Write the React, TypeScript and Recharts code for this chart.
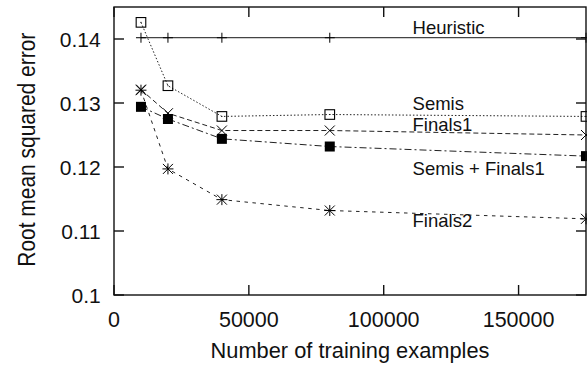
import React from 'react';
import { LineChart, Line, XAxis, YAxis, ReferenceDot } from 'recharts';

const examples = [10000, 20000, 40000, 80000, 175000];
const heuristic = [0.1402, 0.1402, 0.1402, 0.1402, 0.1402];
const semis = [0.1426, 0.1327, 0.1279, 0.1282, 0.1279];
const finals1 = [0.1321, 0.1284, 0.1257, 0.1257, 0.125];
const semisFinals1 = [0.1294, 0.1275, 0.1244, 0.1232, 0.1217];
const finals2 = [0.132, 0.1197, 0.1149, 0.1132, 0.1119];

const xTicks = [0, 50000, 100000, 150000];
const yTicks = [0.1, 0.11, 0.12, 0.13, 0.14];
const xTickLabels = ['0', '50000', '100000', '150000'];
const yTickLabels = ['0.1', '0.11', '0.12', '0.13', '0.14'];

const seriesNames = ['Heuristic', 'Semis', 'Finals1', 'Semis + Finals1', 'Finals2'];
const labelX = [110700, 110700, 110700, 110700, 110700];
const labelY = [0.14079, 0.12892, 0.12557, 0.1187, 0.11065];

const xTitle = 'Number of training examples';
const yTitle = 'Root mean squared error';

const X_DOMAIN = [0, 175000];
const Y_DOMAIN = [0.1, 0.145];

const data = examples.map((x, i) => ({
  x,
  heuristic: heuristic[i],
  semis: semis[i],
  finals1: finals1[i],
  semisFinals1: semisFinals1[i],
  finals2: finals2[i],
}));

const FONT = '"Liberation Sans", Arial, Helvetica, sans-serif';
const INK = '#111';

// chart geometry (margins + axis sizes) shared by the chart and its frame overlay
const W = 587;
const H = 369;
const MARGIN = { top: 7, right: 1, left: 0, bottom: 0 };
const Y_AXIS_W = 114;
const X_AXIS_H = 74;
const PLOT = {
  left: MARGIN.left + Y_AXIS_W,
  right: W - MARGIN.right,
  top: MARGIN.top,
  bottom: H - MARGIN.bottom - X_AXIS_H,
};
const TICK_LEN = 10;
const sx = (v: number) => PLOT.left + ((v - X_DOMAIN[0]) / (X_DOMAIN[1] - X_DOMAIN[0])) * (PLOT.right - PLOT.left);
const sy = (v: number) => PLOT.bottom - ((v - Y_DOMAIN[0]) / (Y_DOMAIN[1] - Y_DOMAIN[0])) * (PLOT.bottom - PLOT.top);

const XTick = (props: any) => {
  const { x, y, payload } = props;
  const i = xTicks.indexOf(payload.value);
  return (
    <text x={x} y={y} dy={32.3} textAnchor="middle" fontSize={21.5} fill={INK} fontFamily={FONT}>
      {i >= 0 ? xTickLabels[i] : String(payload.value)}
    </text>
  );
};

const YTick = (props: any) => {
  const { x, y, payload } = props;
  const i = yTicks.indexOf(payload.value);
  return (
    <text x={x} y={y} dx={-13.3} dy={7.5} textAnchor="end" fontSize={21} fill={INK} fontFamily={FONT}>
      {i >= 0 ? yTickLabels[i] : String(payload.value)}
    </text>
  );
};

const plusDot = (p: any) => (
  <path key={`h${p.index}`} d={`M${p.cx - 5},${p.cy}h10M${p.cx},${p.cy - 5}v10`} stroke="#000" strokeWidth={1} fill="none" />
);
const openSquareDot = (p: any) => (
  <g key={`s${p.index}`}>
    <rect x={p.cx - 4.8} y={p.cy - 4.8} width={9.6} height={9.6} stroke="#000" strokeWidth={1.1} fill="none" />
    <rect x={p.cx - 0.5} y={p.cy - 0.5} width={1} height={1} fill="#000" />
  </g>
);
const crossDot = (p: any) => (
  <path key={`f${p.index}`} d={`M${p.cx - 5},${p.cy - 5}L${p.cx + 5},${p.cy + 5}M${p.cx - 5},${p.cy + 5}L${p.cx + 5},${p.cy - 5}`} stroke="#000" strokeWidth={1} fill="none" />
);
const filledSquareDot = (p: any) => (
  <rect key={`b${p.index}`} x={p.cx - 5} y={p.cy - 5} width={10} height={10} fill="#000" />
);
const starDot = (p: any) => (
  <path
    key={`a${p.index}`}
    d={`M${p.cx - 5},${p.cy - 5}L${p.cx + 5},${p.cy + 5}M${p.cx - 5},${p.cy + 5}L${p.cx + 5},${p.cy - 5}M${p.cx - 5.5},${p.cy}h11M${p.cx},${p.cy - 5.5}v11`}
    stroke="#000"
    strokeWidth={1}
    fill="none"
  />
);

const makeLabel = (text: string) => (props: any) => {
  const vb = props.viewBox || {};
  return (
    <text x={vb.x} y={vb.y} textAnchor="start" fontSize={18.5} fill={INK} fontFamily={FONT}>
      {text}
    </text>
  );
};

const XTitle = () => (
  <text x={350} y={357.5} textAnchor="middle" fontSize={21.7} textLength={279} lengthAdjust="spacingAndGlyphs" fill={INK} fontFamily={FONT}>
    {xTitle}
  </text>
);

const YTitle = () => {
  const cx = 35;
  const cy = 149.7;
  return (
    <text x={cx} y={cy} transform={`rotate(-90, ${cx}, ${cy})`} textAnchor="middle" fontSize={23} textLength={234} lengthAdjust="spacingAndGlyphs" fill={INK} fontFamily={FONT}>
      {yTitle}
    </text>
  );
};

function Frame() {
  const sw = 1.4;
  return (
    <svg width={W} height={H} style={{ position: 'absolute', left: 0, top: 0, pointerEvents: 'none' }}>
      <rect x={PLOT.left} y={PLOT.top} width={PLOT.right - PLOT.left} height={PLOT.bottom - PLOT.top} fill="none" stroke={INK} strokeWidth={sw} />
      {xTicks.map((t) => (
        <g key={`x${t}`}>
          <line x1={sx(t)} x2={sx(t)} y1={PLOT.bottom} y2={PLOT.bottom - TICK_LEN} stroke={INK} strokeWidth={sw} />
          <line x1={sx(t)} x2={sx(t)} y1={PLOT.top} y2={PLOT.top + TICK_LEN} stroke={INK} strokeWidth={sw} />
        </g>
      ))}
      {yTicks.map((t) => (
        <g key={`y${t}`}>
          <line x1={PLOT.left} x2={PLOT.left + TICK_LEN} y1={sy(t)} y2={sy(t)} stroke={INK} strokeWidth={sw} />
          <line x1={PLOT.right} x2={PLOT.right - TICK_LEN} y1={sy(t)} y2={sy(t)} stroke={INK} strokeWidth={sw} />
        </g>
      ))}
    </svg>
  );
}

export default function App() {
  return (
    <div style={{ position: 'absolute', left: 0, top: 0, width: W, height: H, background: '#fff' }}>
      <LineChart width={W} height={H} data={data} margin={MARGIN}>
        <XAxis
          dataKey="x"
          type="number"
          domain={X_DOMAIN}
          ticks={xTicks}
          height={X_AXIS_H}
          tickSize={0}
          tickMargin={0}
          tick={<XTick />}
          axisLine={false}
          tickLine={false}
          label={XTitle}
        />
        <YAxis
          type="number"
          domain={Y_DOMAIN}
          ticks={yTicks}
          width={Y_AXIS_W}
          tickSize={0}
          tickMargin={0}
          tick={<YTick />}
          axisLine={false}
          tickLine={false}
          label={YTitle}
        />
        <Line dataKey="heuristic" type="linear" stroke="#444" strokeWidth={1.2} dot={plusDot} activeDot={false} isAnimationActive={false} />
        <Line dataKey="semis" type="linear" stroke="#222" strokeWidth={1} strokeDasharray="1.5 2" dot={openSquareDot} activeDot={false} isAnimationActive={false} />
        <Line dataKey="finals1" type="linear" stroke="#222" strokeWidth={1} strokeDasharray="5 3" dot={crossDot} activeDot={false} isAnimationActive={false} />
        <Line dataKey="semisFinals1" type="linear" stroke="#222" strokeWidth={1} strokeDasharray="7 3 2 3" dot={filledSquareDot} activeDot={false} isAnimationActive={false} />
        <Line dataKey="finals2" type="linear" stroke="#222" strokeWidth={1} strokeDasharray="3.5 4.5" dot={starDot} activeDot={false} isAnimationActive={false} />
        {seriesNames.map((name, i) => (
          <ReferenceDot key={name} x={labelX[i]} y={labelY[i]} r={0} stroke="none" fill="none" ifOverflow="visible" label={makeLabel(name)} />
        ))}
      </LineChart>
      <Frame />
    </div>
  );
}
